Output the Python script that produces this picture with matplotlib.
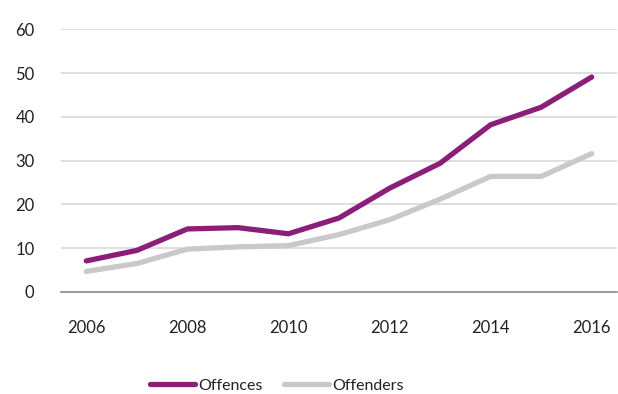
import matplotlib
matplotlib.use("Agg")
import matplotlib.pyplot as plt

years = [2006, 2007, 2008, 2009, 2010, 2011, 2012, 2013, 2014, 2015, 2016]
offences = [7.1, 9.5, 14.4, 14.7, 13.3, 16.9, 23.7, 29.4, 38.2, 42.2, 49.1]
offenders = [4.7, 6.5, 9.8, 10.3, 10.6, 13.1, 16.5, 21.2, 26.4, 26.4, 31.6]
yticks = [0, 10, 20, 30, 40, 50, 60]
xticks = [2006, 2008, 2010, 2012, 2014, 2016]

plt.rcParams['font.family'] = ['Lato', 'DejaVu Sans']

fig = plt.figure(figsize=(6.18, 3.94), dpi=100)
ax = fig.add_axes([61/618, 1-292/394, 1-61/618-1/618, (292-29.3)/394])

l1, = ax.plot(years, offences, color='#8B1E78', lw=3.8, solid_capstyle='round', solid_joinstyle='round', label='Offences', zorder=3)
l2, = ax.plot(years, offenders, color='#C9C9C9', lw=3.8, solid_capstyle='round', solid_joinstyle='round', label='Offenders', zorder=2)

ax.set_xlim(2005.5, 2016.5)
ax.set_ylim(0, 60)
ax.set_yticks(yticks)
ax.set_xticks(xticks)
ax.set_xticklabels([str(x) for x in xticks])
ax.grid(axis='y', color='#D9D9D9', lw=1.2, zorder=0)
ax.set_axisbelow(True)
for s in ['top', 'right', 'left']:
    ax.spines[s].set_visible(False)
ax.spines['bottom'].set_color('#8C8C8C')
ax.spines['bottom'].set_linewidth(1.2)
ax.tick_params(axis='both', length=0, labelsize=12, colors='#222222')
ax.tick_params(axis='y', pad=19)
ax.tick_params(axis='x', pad=20)

fig.legend(handles=[l1, l2], loc='center', bbox_to_anchor=(277/618, 1-385.5/394),
           ncol=2, frameon=False, fontsize=11.5, handlelength=2.8,
           handletextpad=0.25, columnspacing=1.3, labelcolor='#222222')

fig.savefig('out.png', dpi=100)
